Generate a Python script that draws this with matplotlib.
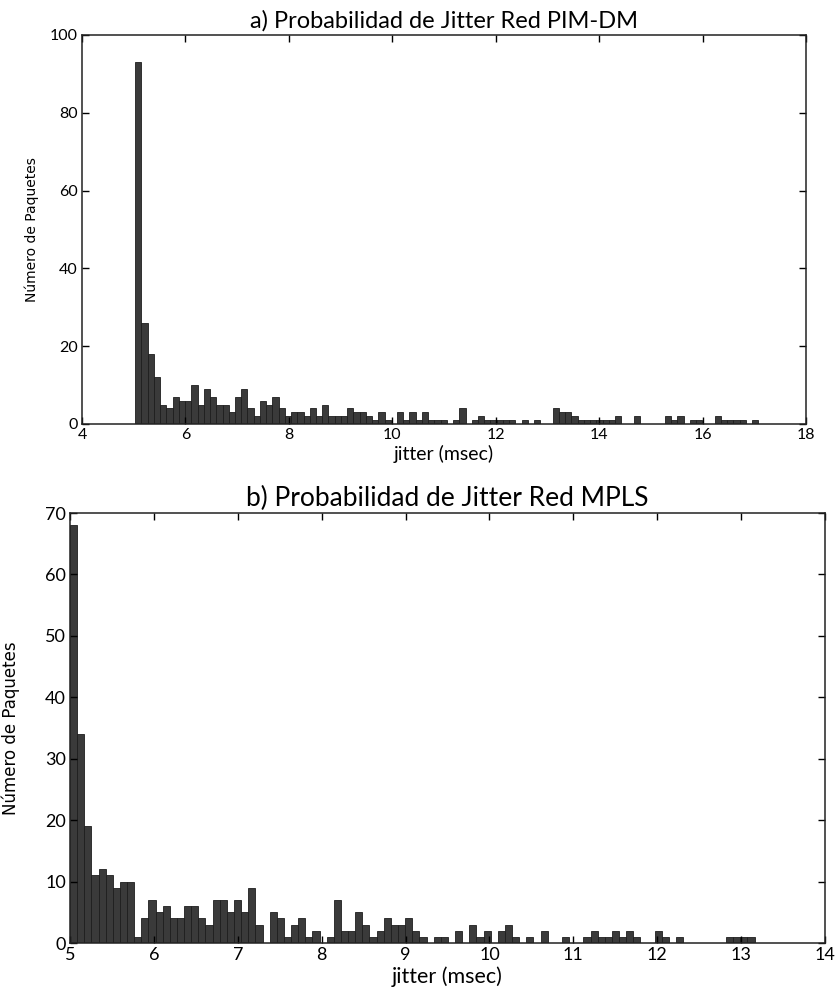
import numpy as np
import matplotlib.pyplot as plt

# a) PIM-DM: 100 bins between 5.03 and 17.08 ms
pim_counts = [93, 26, 18, 12, 5, 4, 7, 6, 6, 10,
              5, 9, 7, 5, 5, 3, 7, 9, 4, 2,
              6, 5, 7, 4, 2, 3, 3, 2, 4, 2,
              5, 2, 2, 2, 4, 3, 3, 2, 1, 3,
              1, 0, 3, 1, 3, 1, 3, 1, 1, 1,
              0, 1, 4, 0, 1, 2, 1, 1, 1, 1,
              1, 0, 1, 0, 1, 0, 0, 4, 3, 3,
              2, 1, 1, 1, 1, 1, 1, 2, 0, 0,
              2, 0, 0, 0, 0, 2, 1, 2, 0, 1,
              1, 0, 0, 2, 1, 1, 1, 1, 0, 1]
pim_range = (5.03, 17.08)

# b) MPLS: 96 bins between 5.0 and 13.16 ms
mpls_counts = [68, 34, 19, 11, 12, 11, 9, 10, 10, 1,
               4, 7, 5, 6, 4, 4, 6, 6, 4, 3,
               7, 7, 5, 7, 5, 9, 3, 0, 5, 4,
               1, 3, 4, 1, 2, 0, 1, 7, 2, 2,
               5, 3, 1, 2, 4, 3, 3, 4, 2, 1,
               0, 1, 1, 0, 2, 0, 3, 1, 2, 0,
               2, 3, 1, 0, 1, 0, 2, 0, 0, 1,
               0, 0, 1, 2, 1, 1, 2, 1, 2, 1,
               0, 0, 2, 1, 0, 1, 0, 0, 0, 0,
               0, 0, 1, 1, 1, 1]
mpls_range = (5.0, 13.16)

titles = ['a) Probabilidad de Jitter Red PIM-DM', 'b) Probabilidad de Jitter Red MPLS']
xlabel = 'jitter (msec)'
ylabel = 'Número de Paquetes'

W, H = 836, 989
fig = plt.figure(figsize=(W / 100, H / 100), dpi=100)
ax1 = fig.add_axes([82 / W, 1 - 424 / H, (806 - 82) / W, (424 - 35) / H])
ax2 = fig.add_axes([70 / W, 1 - 943 / H, (825 - 70) / W, (943 - 513) / H])

font = ['Lato', 'DejaVu Sans']


def draw(ax, counts, rng, title, xlim, ylim, xticks, yticks, sizes):
    tick_sz, title_sz, xlab_sz, ylab_sz = sizes
    edges = np.linspace(rng[0], rng[1], len(counts) + 1)
    ax.hist(edges[:-1], bins=edges, weights=counts,
            color='#3a3a3a', edgecolor='#1e1e1e', linewidth=0.6)
    ax.set_xlim(*xlim)
    ax.set_ylim(*ylim)
    ax.set_xticks(xticks)
    ax.set_yticks(yticks)
    ax.tick_params(direction='in', top=True, right=True, length=5, width=1,
                   labelsize=tick_sz, pad=3)
    for lab in ax.get_xticklabels() + ax.get_yticklabels():
        lab.set_family(font)
    for s in ax.spines.values():
        s.set_linewidth(1.1)
        s.set_color('#222222')
    ax.set_title(title, family=font, fontsize=title_sz, pad=5)
    ax.set_xlabel(xlabel, family=font, fontsize=xlab_sz, labelpad=2)
    ax.set_ylabel(ylabel, family='DejaVu Sans', fontsize=ylab_sz, labelpad=8)


draw(ax1, pim_counts, pim_range, titles[0], (4, 18), (0, 100),
     range(4, 19, 2), range(0, 101, 20), (11.5, 17, 14, 10))
draw(ax2, mpls_counts, mpls_range, titles[1], (5, 14), (0, 70),
     range(5, 15), range(0, 71, 10), (13, 19, 15.5, 12))
ax2.yaxis.set_label_coords(-0.066, 0.5)

fig.savefig('out.png', dpi=100)
